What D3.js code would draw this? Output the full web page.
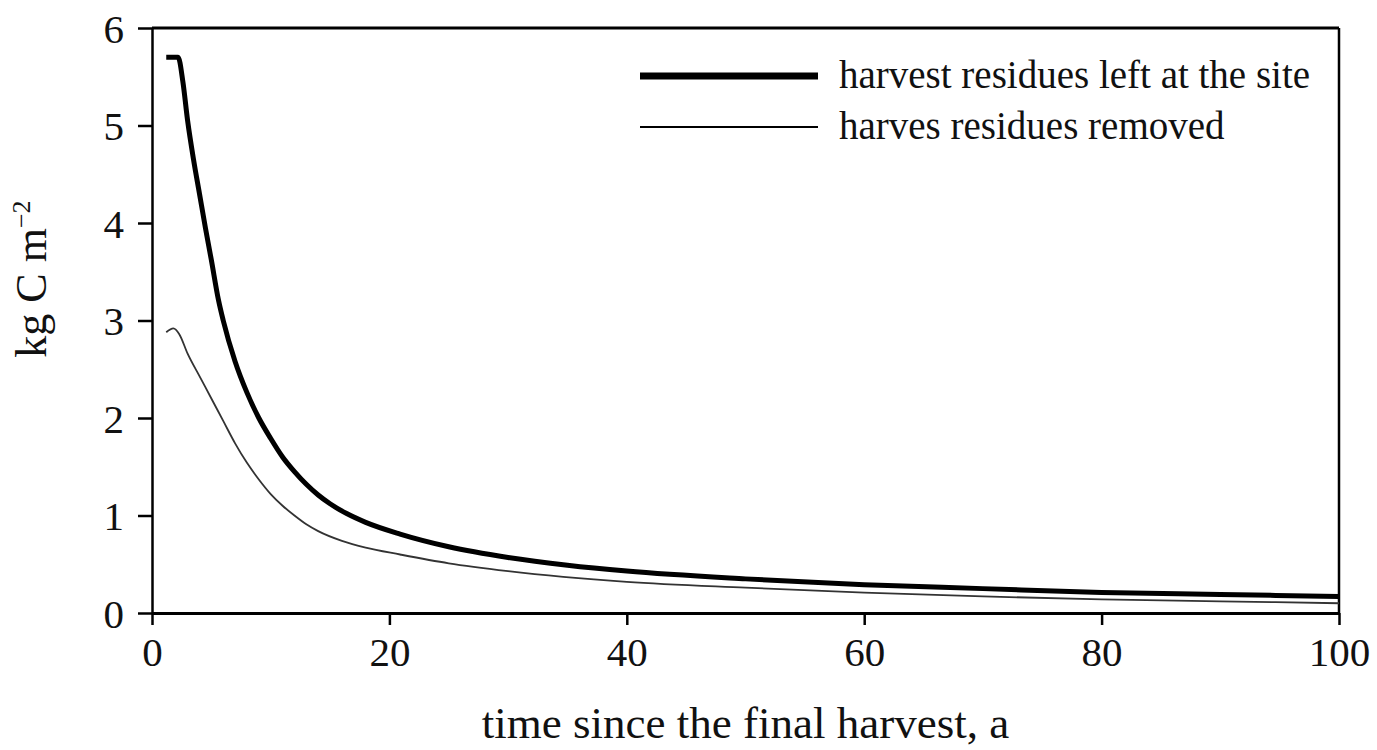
<!DOCTYPE html>
<html><head><meta charset="utf-8">
<script src="https://cdn.jsdelivr.net/npm/d3@7"></script>
<style>body{margin:0;background:#fff}svg{display:block}text{font-family:"Liberation Serif","Times New Roman",serif;fill:#111}</style>
</head><body>
<script>
// data
const timeLeft = [1.2,2.2,2.6,3,3.5,4,4.5,5,5.6,6,7,8,9,10,11,12,13,14,15,16.4,18,20.9,25,30,35,40,50,60,70,80,90,100];
const residuesLeft = [5.70,5.70,5.45,5.05,4.65,4.3,3.95,3.62,3.21,3.0,2.58,2.26,2.0,1.79,1.60,1.45,1.32,1.21,1.12,1.02,0.93,0.81,0.68,0.57,0.49,0.43,0.35,0.29,0.25,0.21,0.19,0.17];
const timeRemoved = [1.2,1.8,2.3,3,4,5,6,7,8,9,10,11,12,13,14,16,18,20.9,25,30,40,50,60,70,80,90,100];
const residuesRemoved = [2.88,2.92,2.86,2.66,2.43,2.20,1.97,1.74,1.54,1.37,1.22,1.10,1.00,0.91,0.84,0.74,0.67,0.60,0.51,0.43,0.32,0.26,0.21,0.17,0.14,0.12,0.10];
const xTicks = [0,20,40,60,80,100];
const yTicks = [0,1,2,3,4,5,6];
const seriesNames = ["harvest residues left at the site","harves residues removed"];

const W=1377,H=750;
const svg=d3.select("body").append("svg").attr("width",W).attr("height",H);
const x=d3.scaleLinear().domain([0,100]).range([152,1339]);
const y=d3.scaleLinear().domain([0,6]).range([613,28]);

// frame top/right
svg.append("line").attr("x1",x(0)).attr("x2",x(100)).attr("y1",y(6)).attr("y2",y(6)).attr("stroke","#000").attr("stroke-width",3);
svg.append("line").attr("x1",x(100)).attr("x2",x(100)).attr("y1",y(6)).attr("y2",y(0)).attr("stroke","#000").attr("stroke-width",2.5);

const xa=svg.append("g").attr("transform",`translate(0,${y(0)})`)
  .call(d3.axisBottom(x).tickValues(xTicks).tickFormat(d3.format("d")).tickSize(12).tickPadding(12).tickSizeOuter(0));
const ya=svg.append("g").attr("transform",`translate(${x(0)},0)`)
  .call(d3.axisLeft(y).tickValues(yTicks).tickFormat(d3.format("d")).tickSize(14).tickPadding(14).tickSizeOuter(0));
xa.select(".domain").attr("stroke","#000").attr("stroke-width",3);
ya.select(".domain").attr("stroke","#000").attr("stroke-width",2.5);
svg.selectAll(".tick line").attr("stroke","#000").attr("stroke-width",2.5);
svg.selectAll(".tick text").attr("font-size",41).attr("font-family","Liberation Serif").attr("fill","#222");
xa.selectAll(".tick text").attr("dy","0.71em");
ya.selectAll(".tick text").attr("dy","0.35em");

const line=d3.line().x(d=>x(d[0])).y(d=>y(d[1])).curve(d3.curveMonotoneX);
svg.append("path").datum(timeRemoved.map((t,i)=>[t,residuesRemoved[i]]))
  .attr("d",line).attr("fill","none").attr("stroke","#333").attr("stroke-width",1.8);
svg.append("path").datum(timeLeft.map((t,i)=>[t,residuesLeft[i]]))
  .attr("d",line).attr("fill","none").attr("stroke","#000").attr("stroke-width",5);

// legend
const lg=[{y:76,w:7,name:seriesNames[0]},{y:127,w:2,name:seriesNames[1]}];
lg.forEach(l=>{
  svg.append("line").attr("x1",640).attr("x2",818).attr("y1",l.y).attr("y2",l.y).attr("stroke","#000").attr("stroke-width",l.w);
  svg.append("text").attr("x",839).attr("y",l.y+12).attr("font-size",39).text(l.name);
});

// axis titles
svg.append("text").attr("x",(x(0)+x(100))/2).attr("y",738).attr("text-anchor","middle").attr("font-size",45).text("time since the final harvest, a");
const yt=svg.append("text").attr("transform","translate(46,279) rotate(-90)").attr("text-anchor","middle").attr("font-size",44);
yt.append("tspan").text("kg C m");
yt.append("tspan").attr("dy",-16).attr("font-size",26).text("\u22122");
</script>
</body></html>
